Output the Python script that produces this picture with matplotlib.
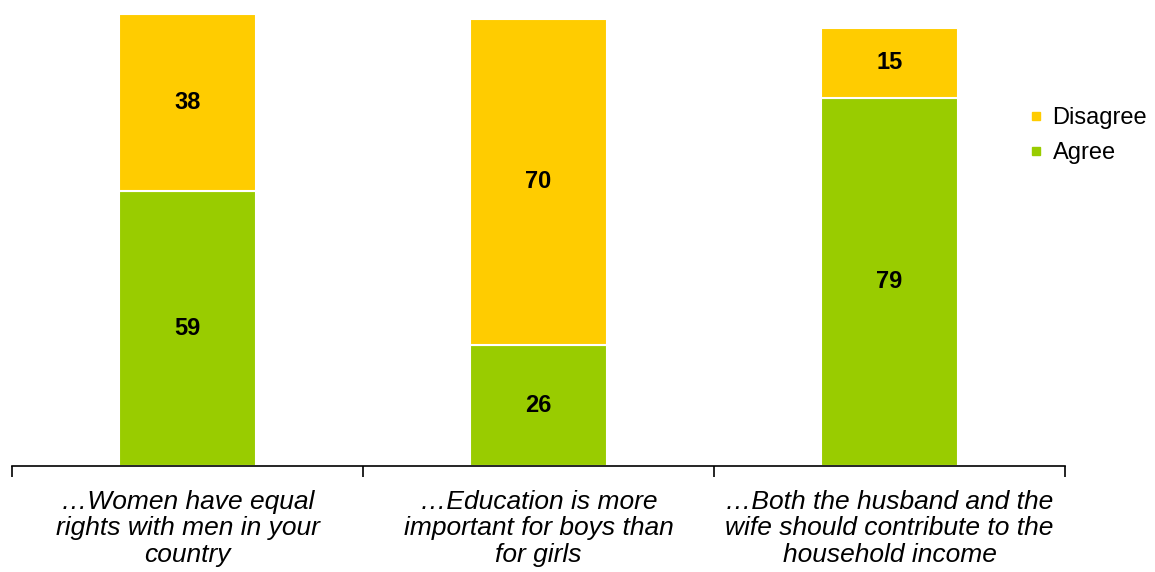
import numpy as np
import matplotlib.pyplot as plt
from matplotlib.lines import Line2D
import matplotlib.transforms as mtransforms

categories = [
    "\u2026Women have equal\nrights with men in your\ncountry",
    "\u2026Education is more\nimportant for boys than\nfor girls",
    "\u2026Both the husband and the\nwife should contribute to the\nhousehold income",
]
agree = [59, 26, 79]
disagree = [38, 70, 15]

GREEN = "#99CC00"
YELLOW = "#FFCC00"

plt.rcParams["font.family"] = ["Liberation Sans", "DejaVu Sans"]

fig = plt.figure(figsize=(11.55, 5.72), dpi=100)
ax = fig.add_axes([12 / 1155, 106 / 572, 1053 / 1155, 466 / 572])

x = np.arange(len(categories))
w = 0.393
ax.bar(x, agree, width=w, color=GREEN, edgecolor="white", linewidth=1.5)
ax.bar(x, disagree, width=w, bottom=agree, color=YELLOW, edgecolor="white", linewidth=1.5)

# segment values
for i in range(len(categories)):
    ax.text(x[i], agree[i] / 2, str(agree[i]), ha="center", va="center",
            fontsize=17, fontweight="bold")
    ax.text(x[i], agree[i] + disagree[i] / 2, str(disagree[i]), ha="center",
            va="center", fontsize=17, fontweight="bold")

ax.set_xlim(-0.5, 2.5)
ax.set_ylim(0, 100)
for s in ["top", "right", "left"]:
    ax.spines[s].set_visible(False)
ax.spines["bottom"].set_linewidth(1.2)
ax.set_yticks([])
ax.set_xticks([-0.5, 0.5, 1.5, 2.5])
ax.set_xticklabels([])
ax.tick_params(axis="x", direction="out", length=8, width=1.2)

trans = mtransforms.blended_transform_factory(ax.transData, ax.transAxes)
for i, c in enumerate(categories):
    ax.text(x[i], -0.051, c, transform=trans, ha="center", va="top",
            fontsize=19, style="italic", linespacing=1.13)

handles = [
    Line2D([0], [0], marker="s", color=YELLOW, linestyle="", markersize=6),
    Line2D([0], [0], marker="s", color=GREEN, linestyle="", markersize=6),
]
fig.legend(handles, ["Disagree", "Agree"], loc="upper left",
           bbox_to_anchor=(1028 / 1155, 1 - 107 / 572), frameon=False,
           fontsize=17, handletextpad=0.34, handlelength=0.7,
           labelspacing=0.57, borderpad=0, borderaxespad=0)

fig.savefig("out.png", dpi=100)
